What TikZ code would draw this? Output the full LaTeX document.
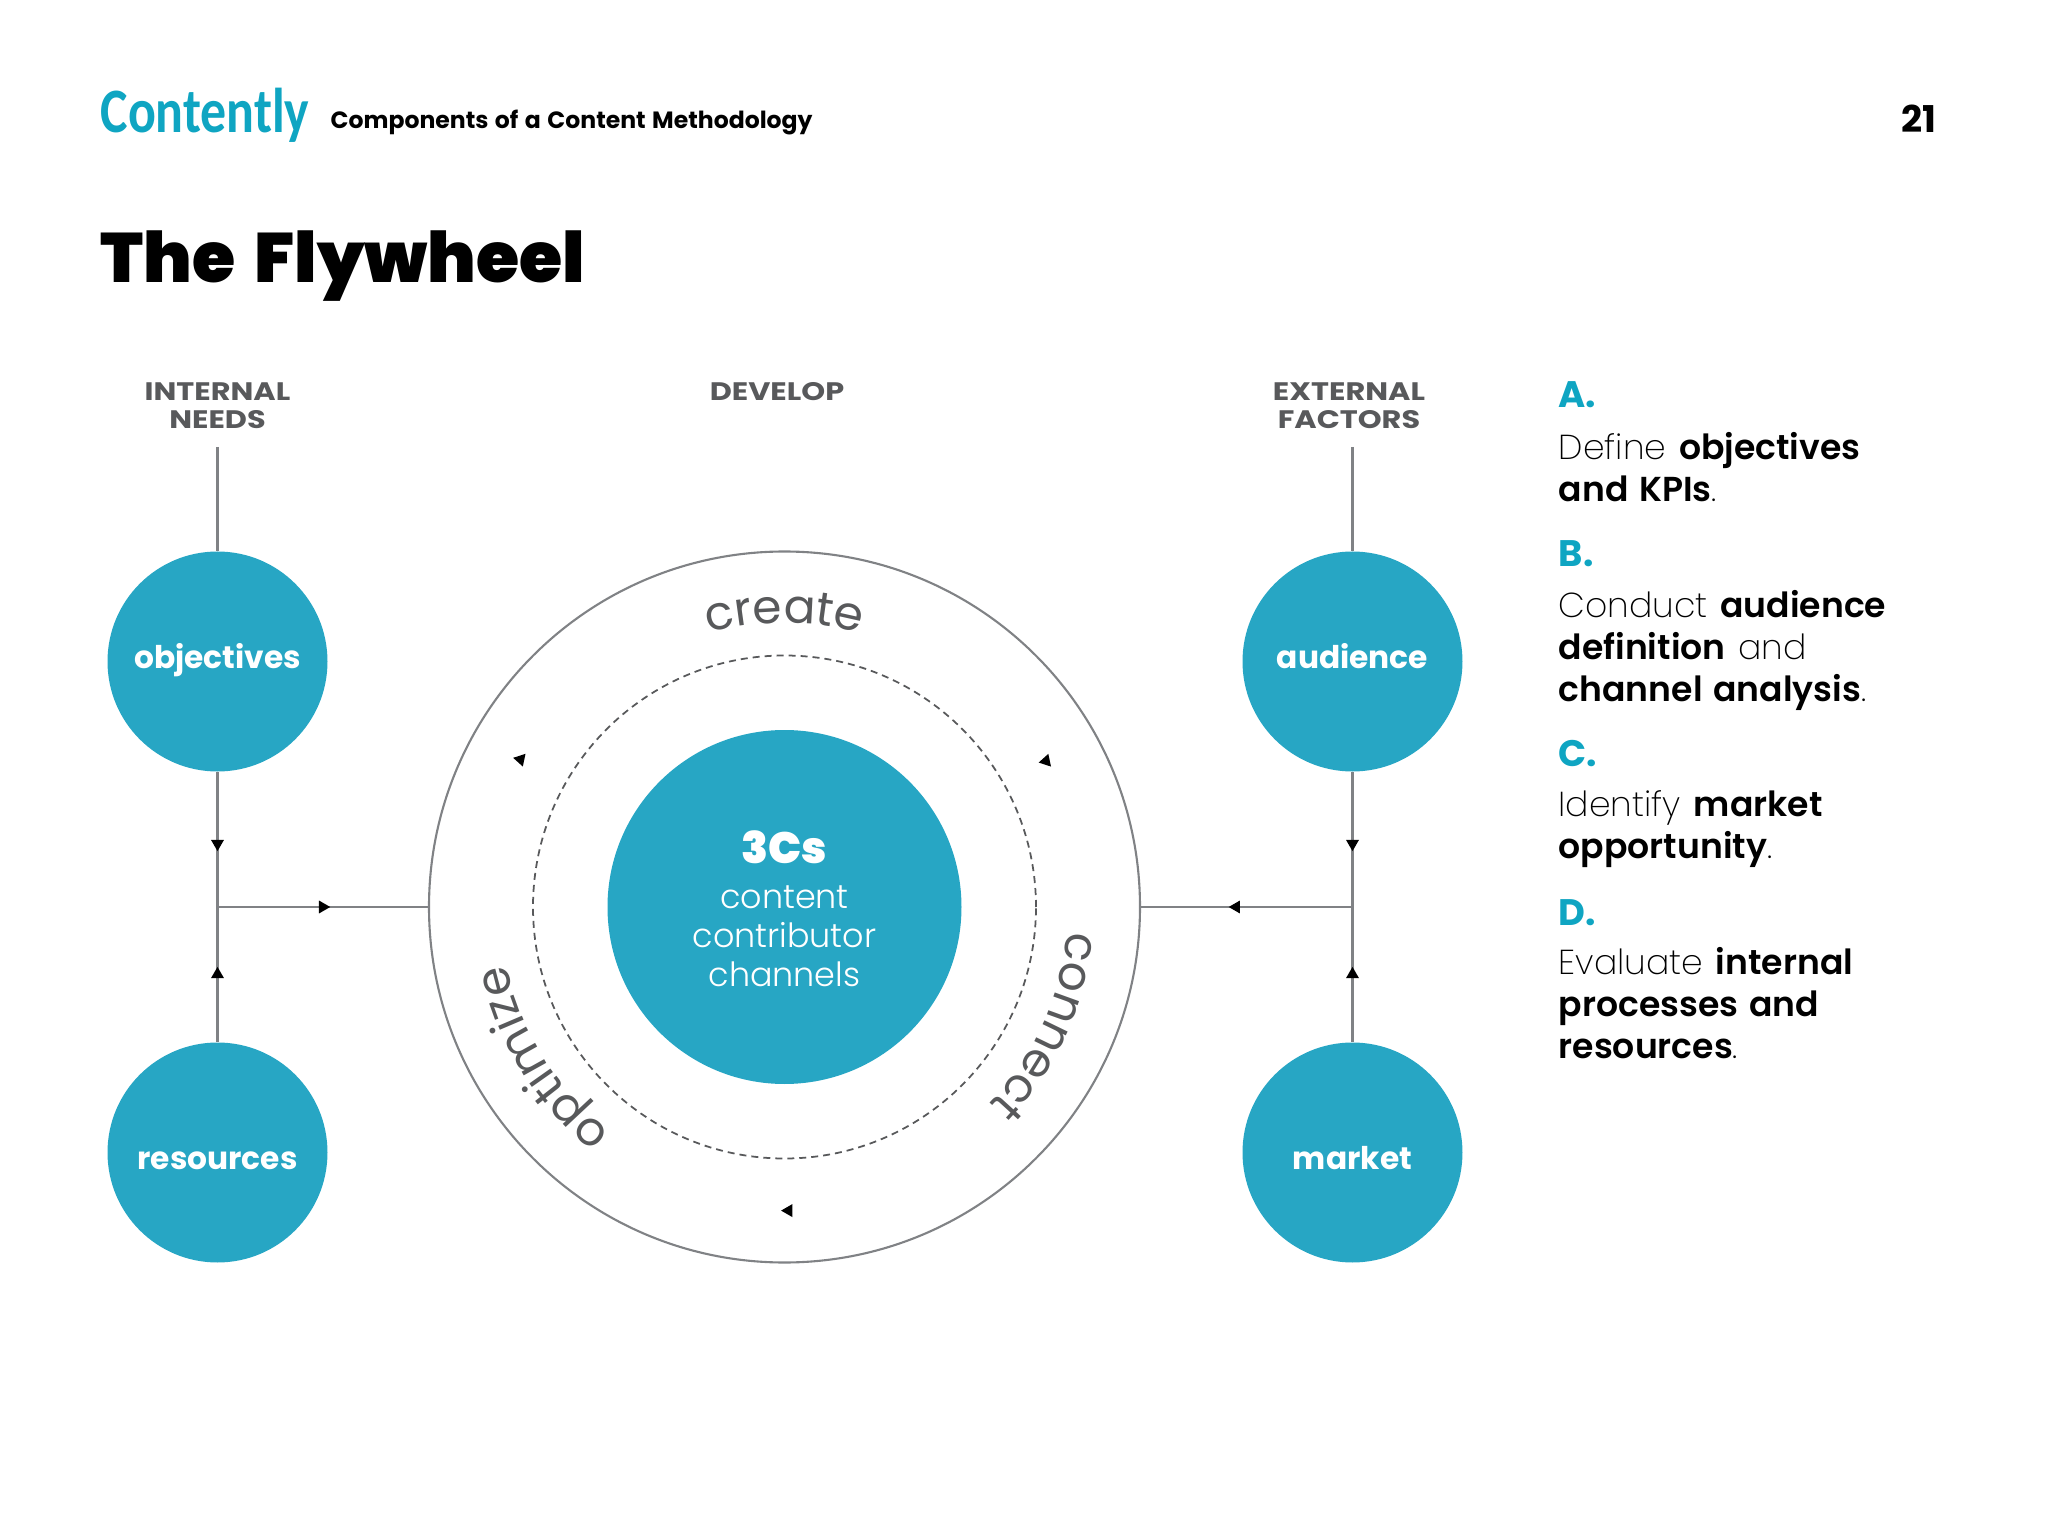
\documentclass[tikz,border=0pt]{standalone}
\usepackage{fontspec}
\setmainfont{Poppins}[WordSpace=1.3]
\newfontfamily\lightfont{Poppins ExtraLight}[WordSpace=1.3]
\newfontfamily\ringfont{Poppins Light}
\newfontfamily\blackfont{Poppins Black}[WordSpace=1.6]
\newfontfamily\logofont{Carlito}
\usetikzlibrary{shapes.geometric, decorations.text}
\definecolor{flyteal}{HTML}{27A6C4}
\definecolor{headteal}{HTML}{0FA5C2}
\definecolor{flygray}{HTML}{58595B}
\definecolor{flyline}{HTML}{808285}
\newcommand{\hublabel}[2]{\raisebox{#1}[0pt][0pt]{#2}}

\begin{document}
\begin{tikzpicture}[
        hub/.style={circle, fill=flyteal, text=white, inner sep=0pt,
          minimum size=2.2cm, align=center,
          font=\fontsize{8.9}{10}\selectfont\bfseries},
        heading/.style={text=flygray, align=center, inner sep=0pt, xscale=1.2,
          font=\fontsize{7.2}{7.9}\selectfont\bfseries},
        step_head/.style={anchor=base west, inner sep=0pt, text=headteal,
          font=\fontsize{10.5}{12}\selectfont\bfseries},
        step_text/.style={anchor=north west, inner sep=0pt, align=left,
          font=\fontsize{9.85}{11.9}\selectfont\lightfont},
        line/.style={draw=flyline, line width=0.6pt},
        tipmark/.style={regular polygon, regular polygon sides=3, fill=black,
          inner sep=0pt, minimum size=0.15cm},
        ringtext/.style={decorate, decoration={text along path, text align=center}}
      ]
      \useasboundingbox (0, 0) rectangle (20.48, -15.36);

      % Page header
      \node [anchor=base west, inner sep=0pt, text=headteal, xscale=0.82,
        font=\fontsize{18}{20}\selectfont\logofont\bfseries] (logo) at (1.0, -1.33) {Contently};
      \node [anchor=base west, inner sep=0pt,
        font=\fontsize{6.7}{8}\selectfont\bfseries] (subject) at (3.3, -1.29)
      {Components of a Content Methodology};
      \node [anchor=base east, inner sep=0pt,
        font=\fontsize{10.5}{11}\selectfont\bfseries] (page) at (19.37, -1.33) {21};
      \node [anchor=base west, inner sep=0pt,
        font=\fontsize{19.9}{25}\selectfont\blackfont] (title) at (1.0, -2.83) {The Flywheel};

      % Column headings
      \node [heading] (h_internal) at (2.175, -4.055) {INTERNAL\\NEEDS};
      \node [heading] (h_develop) at (7.77, -3.92) {DEVELOP};
      \node [heading] (h_external) at (13.49, -4.055) {EXTERNAL\\FACTORS};

      % Outer circles
      \node [hub] (objectives) at (2.175, -6.615) {\hublabel{-0.07cm}{objectives}};
      \node [hub] (audience) at (13.525, -6.615) {\hublabel{-0.07cm}{audience}};
      \node [hub] (resources) at (2.175, -11.525) {\hublabel{-0.17cm}{resources}};
      \node [hub] (market) at (13.525, -11.525) {\hublabel{-0.17cm}{market}};

      % Flywheel
      \node [circle, draw=flyline, line width=0.6pt, inner sep=0pt,
        minimum size=7.11cm] (c_ring) at (7.845, -9.07) {};
      \node [circle, draw=flygray, line width=0.5pt, inner sep=0pt,
        dash pattern=on 0.07cm off 0.05cm,
        minimum size=5.03cm] (c_dash) at (7.845, -9.07) {};
      \node [circle, fill=flyteal, inner sep=0pt, minimum size=3.54cm] (c_core) at (7.845, -9.07) {};
      \node [text=white, inner sep=0pt, align=center,
        font=\fontsize{9.5}{11.1}\selectfont\ringfont] (c_label) at (7.845, -9.09)
      {{\fontsize{12.5}{13}\selectfont\blackfont 3Cs}\\[0.06cm]content\\contributor\\channels};

      % Text on the outer ring
      \path [ringtext, decoration={text={|\fontsize{13.4}{15}\selectfont\rmfamily\color{flygray}|create}}]
      (7.845, -9.07) ++(125:2.84) arc (125:55:2.84);
      \path [ringtext, decoration={text={|\fontsize{13.4}{15}\selectfont\rmfamily\color{flygray}|connect}}]
      (7.845, -9.07) ++(0:2.84) arc (0:-49:2.84);
      \path [ringtext, decoration={text={|\fontsize{13.4}{15}\selectfont\rmfamily\color{flygray}|optimize}}]
      (7.845, -9.07) ++(238:2.84) arc (238:186:2.84);

      % Direction marks on the ring
      \node [tipmark, rotate=78] (m_left) at (5.205, -7.594) {};
      \node [tipmark, rotate=102] (m_right) at (10.46, -7.61) {};
      \node [tipmark, rotate=90] (m_bottom) at (7.886, -12.106) {};

      % Left column
      \coordinate (j_internal) at (2.175, -9.07);
      \coordinate (t_internal) at (2.175, -4.47);
      \path [line] (t_internal) -- (objectives.north);
      \path [line] (objectives.south) -- node[tipmark, pos=0.53, rotate=180] {} (j_internal);
      \path [line] (resources.north) -- node[tipmark, pos=0.5] {} (j_internal);
      \path [line] (j_internal) -- node[tipmark, pos=0.5, rotate=-90] {} (c_ring.west);

      % Right column
      \coordinate (j_external) at (13.525, -9.07);
      \coordinate (t_external) at (13.525, -4.47);
      \path [line] (t_external) -- (audience.north);
      \path [line] (audience.south) -- node[tipmark, pos=0.53, rotate=180] {} (j_external);
      \path [line] (market.north) -- node[tipmark, pos=0.5] {} (j_external);
      \path [line] (j_external) -- node[tipmark, pos=0.55, rotate=90] {} (c_ring.east);

      % Steps
      \node [step_head] (s_a) at (15.58, -4.07) {A.};
      \node [step_text] (t_a) at (15.58, -4.32)
      {Define {\bfseries objectives}\\{\bfseries and KPIs}.};
      \node [step_head] (s_b) at (15.58, -5.67) {B.};
      \node [step_text] (t_b) at (15.58, -5.9)
      {Conduct {\bfseries audience}\\{\bfseries definition} and\\{\bfseries channel analysis}.};
      \node [step_head] (s_c) at (15.58, -7.67) {C.};
      \node [step_text] (t_c) at (15.58, -7.9)
      {Identify {\bfseries market}\\{\bfseries opportunity}.};
      \node [step_head] (s_d) at (15.58, -9.25) {D.};
      \node [step_text] (t_d) at (15.58, -9.47)
      {Evaluate {\bfseries internal}\\{\bfseries processes and}\\{\bfseries resources}.};

    \end{tikzpicture}
\end{document}
